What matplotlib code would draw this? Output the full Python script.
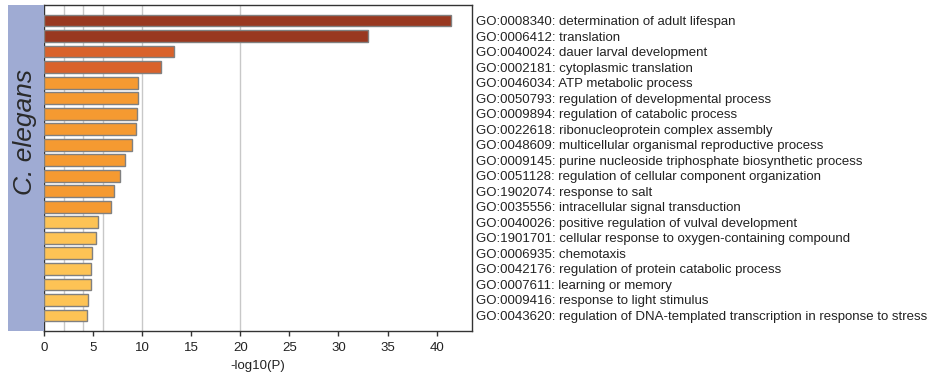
import matplotlib
matplotlib.use("Agg")
import matplotlib.pyplot as plt
from matplotlib.patches import Rectangle

plt.rcParams['font.family'] = ['Liberation Sans', 'DejaVu Sans']

terms = [
    "GO:0008340: determination of adult lifespan",
    "GO:0006412: translation",
    "GO:0040024: dauer larval development",
    "GO:0002181: cytoplasmic translation",
    "GO:0046034: ATP metabolic process",
    "GO:0050793: regulation of developmental process",
    "GO:0009894: regulation of catabolic process",
    "GO:0022618: ribonucleoprotein complex assembly",
    "GO:0048609: multicellular organismal reproductive process",
    "GO:0009145: purine nucleoside triphosphate biosynthetic process",
    "GO:0051128: regulation of cellular component organization",
    "GO:1902074: response to salt",
    "GO:0035556: intracellular signal transduction",
    "GO:0040026: positive regulation of vulval development",
    "GO:1901701: cellular response to oxygen-containing compound",
    "GO:0006935: chemotaxis",
    "GO:0042176: regulation of protein catabolic process",
    "GO:0007611: learning or memory",
    "GO:0009416: response to light stimulus",
    "GO:0043620: regulation of DNA-templated transcription in response to stress",
]
neg_log10_p = [41.5, 33.0, 13.2, 11.9, 9.6, 9.58, 9.52, 9.35, 9.0, 8.3,
               7.72, 7.1, 6.83, 5.45, 5.28, 4.92, 4.8, 4.78, 4.47, 4.43]
# significance tier per term (0 = most significant)
tier = [0, 0, 1, 1, 2, 2, 2, 2, 2, 2, 2, 2, 2, 3, 3, 3, 3, 3, 3, 3]
tier_colors = ["#993820", "#D9622B", "#F59A31", "#FDC355"]
grid_positions = [2, 4, 6, 10, 20]
species = "C. elegans"

W, H = 933, 374
fig = plt.figure(figsize=(W / 100, H / 100), dpi=100)

ax_left, ax_right, ax_top, ax_bottom = 44, 472, 5, 331
ax = fig.add_axes([ax_left / W, (H - ax_bottom) / H,
                   (ax_right - ax_left) / W, (ax_bottom - ax_top) / H])

# side band with species name
band = Rectangle((8 / W, (H - ax_bottom) / H), (ax_left - 8) / W,
                 (ax_bottom - ax_top) / H, transform=fig.transFigure,
                 facecolor="#9FABD3", edgecolor="none", zorder=0)
fig.patches.append(band)
fig.text(25 / W, 1 - 132 / H, species, rotation=90, style="italic",
         fontsize=19, ha="center", va="center", color="#2a2a2a")

ypos = list(range(len(terms)))
colors = [tier_colors[t] for t in tier]
ax.barh(ypos, neg_log10_p, height=0.76, color=colors,
        edgecolor="#808080", linewidth=1.0, zorder=3)

for g in grid_positions:
    ax.axvline(g, color="#C8C8C8", linewidth=1.0, zorder=1)

ax.set_xlim(0, 43.6)
ax.set_ylim(len(terms), -1)
ax.set_xticks([0, 5, 10, 15, 20, 25, 30, 35, 40])
ax.tick_params(axis="x", length=3.5, width=1, colors="#333333",
               labelsize=9.5, labelcolor="#222222", pad=4.5)
ax.set_xlabel("-log10(P)", fontsize=9.5, color="#222222", labelpad=4)

ax.yaxis.tick_right()
ax.set_yticks(ypos)
ax.set_yticklabels(terms, fontsize=9.5, color="#222222")
ax.tick_params(axis="y", length=0, pad=3)

for side in ["left", "right", "top", "bottom"]:
    ax.spines[side].set_color("#333333")
    ax.spines[side].set_linewidth(1.0)

fig.savefig("out.png", dpi=100)
